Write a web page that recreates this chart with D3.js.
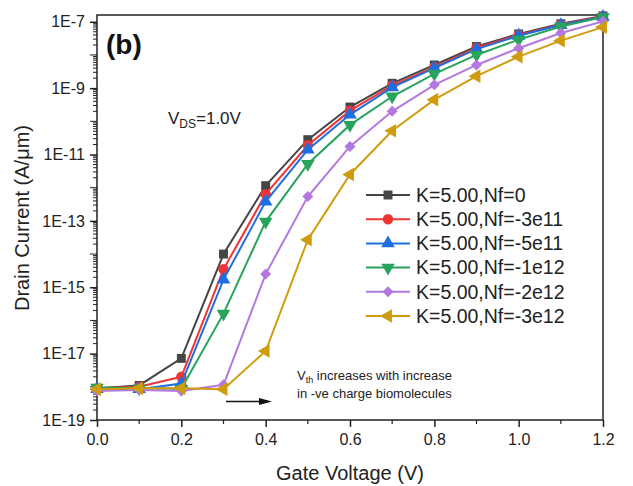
<!DOCTYPE html>
<html><head><meta charset="utf-8">
<script src="https://cdn.jsdelivr.net/npm/d3@7"></script>
<style>body{margin:0;background:#fff}svg{display:block;font-family:"Liberation Sans",Arial,sans-serif}</style>
</head><body>
<svg id="c" width="633" height="486"></svg>
<script>
const gateVoltage = [0.0,0.1,0.2,0.3,0.4,0.5,0.6,0.7,0.8,0.9,1.0,1.1,1.2];
const seriesNames = ["K=5.00,Nf=0","K=5.00,Nf=-3e11","K=5.00,Nf=-5e11","K=5.00,Nf=-1e12","K=5.00,Nf=-2e12","K=5.00,Nf=-3e12"];
const nf0    = [9e-19,1.1e-18,7.2e-18,1.0e-14,1.15e-12,2.8e-11,2.7e-10,1.4e-9,5.0e-9,1.8e-8,4.3e-8,8.7e-8,1.5e-7];
const nf3e11 = [9e-19,1.0e-18,2.0e-18,3.5e-15,6.4e-13,1.9e-11,2.1e-10,1.2e-9,4.3e-9,1.65e-8,4.0e-8,8.3e-8,1.45e-7];
const nf5e11 = [8.5e-19,8.5e-19,1.25e-18,1.7e-15,3.8e-13,1.4e-11,1.6e-10,1.05e-9,4.0e-9,1.5e-8,3.8e-8,8.0e-8,1.4e-7];
const nf1e12 = [9.5e-19,9e-19,8.7e-19,1.6e-16,9.5e-14,5.2e-12,7.8e-11,5.6e-10,2.7e-9,1.0e-8,2.9e-8,7.2e-8,1.38e-7];
const nf2e12 = [7.5e-19,8e-19,7.5e-19,1.15e-18,2.5e-15,5.4e-13,1.75e-11,2.0e-10,1.26e-9,5.0e-9,1.6e-8,4.6e-8,1.03e-7];
const nf3e12 = [8.5e-19,9e-19,9e-19,8.5e-19,1.2e-17,2.7e-14,2.5e-12,5.2e-11,4.5e-10,2.3e-9,8.9e-9,2.7e-8,6.9e-8];
const xTickLabels = ["0.0","0.2","0.4","0.6","0.8","1.0","1.2"];
const yTickLabels = ["1E-19","1E-17","1E-15","1E-13","1E-11","1E-9","1E-7"];

const colors = ["#454545","#ee3535","#1f6ee0","#27a35c","#b278e0","#d09c0e"];
const symbols = [
  {t:d3.symbolSquare, s:80, r:0},
  {t:d3.symbolCircle, s:85, r:0},
  {t:d3.symbolTriangle, s:80, r:0},
  {t:d3.symbolTriangle, s:80, r:180},
  {t:d3.symbolSquare, s:60, r:45},
  {t:d3.symbolTriangle, s:80, r:-90}
];
const allSeries = [nf0,nf3e11,nf5e11,nf1e12,nf2e12,nf3e12];

const svg = d3.select("#c");
const L=97,R=603,T=15,B=420;
const x = d3.scaleLinear().domain([0,1.2]).range([L,R]);
const y = d3.scaleLog().domain([1e-19,1.6e-7]).range([B,T]);

// frame
svg.append("rect").attr("x",L).attr("y",T).attr("width",R-L).attr("height",B-T)
  .attr("fill","none").attr("stroke","#222").attr("stroke-width",1.5);

// x axis
const xAxis = svg.append("g").attr("transform",`translate(0,${B})`);
xAxis.call(d3.axisBottom(x).tickValues(d3.range(0,1.21,0.2)).tickSize(7)
  .tickFormat((d,i)=>xTickLabels[i]));
xAxis.select(".domain").remove();
xAxis.selectAll(".tick line").attr("stroke","#222").attr("stroke-width",1.5);
xAxis.selectAll(".tick text").attr("font-size",16).attr("fill","#222").attr("dy","0.95em")
  .attr("font-family","Liberation Sans, Arial, sans-serif");
const xMinor = svg.append("g");
[0.1,0.3,0.5,0.7,0.9,1.1].forEach(v=>{
  xMinor.append("line").attr("x1",x(v)).attr("x2",x(v)).attr("y1",B).attr("y2",B+4)
    .attr("stroke","#222").attr("stroke-width",1.2);
});

// y axis
const majors = yTickLabels.map(s=>+s);
const yAxis = svg.append("g").attr("transform",`translate(${L},0)`);
yAxis.call(d3.axisLeft(y).tickValues(majors).tickSize(7).tickFormat((d,i)=>yTickLabels[i]));
yAxis.select(".domain").remove();
yAxis.selectAll(".tick line").attr("stroke","#222").attr("stroke-width",1.5);
yAxis.selectAll(".tick text").attr("font-size",16).attr("fill","#222").attr("dx","-2")
  .attr("font-family","Liberation Sans, Arial, sans-serif");
const yMinor = svg.append("g");
for(let e=-19;e<=-7;e++){
  for(let m=1;m<=9;m++){
    const v = m*Math.pow(10,e);
    if(v>1.6e-7) continue;
    if(m===1 && (e%2!==0)) continue;
    const len = (m===1)?7:4;
    yMinor.append("line").attr("x1",L-len).attr("x2",L).attr("y1",y(v)).attr("y2",y(v))
      .attr("stroke","#222").attr("stroke-width",1);
  }
}

// series
const line = d3.line().x((d,i)=>x(gateVoltage[i])).y(d=>y(d));
allSeries.forEach((s,k)=>{
  const g = svg.append("g");
  g.append("path").attr("d",line(s)).attr("fill","none").attr("stroke",colors[k]).attr("stroke-width",2);
  const sym = d3.symbol().type(symbols[k].t).size(symbols[k].s);
  g.selectAll("path.m").data(s).join("path").attr("class","m")
    .attr("d",sym)
    .attr("transform",(d,i)=>`translate(${x(gateVoltage[i])},${y(d)}) rotate(${symbols[k].r})`)
    .attr("fill",colors[k]);
});

// legend
const leg = svg.append("g");
seriesNames.forEach((n,k)=>{
  const yy = 195 + k*24.2;
  leg.append("line").attr("x1",366).attr("x2",410).attr("y1",yy).attr("y2",yy)
    .attr("stroke",colors[k]).attr("stroke-width",2);
  leg.append("path").attr("d",d3.symbol().type(symbols[k].t).size(symbols[k].s)())
    .attr("transform",`translate(388,${yy}) rotate(${symbols[k].r})`).attr("fill",colors[k]);
  leg.append("text").attr("x",416).attr("y",yy).attr("dy","0.35em").attr("font-size",19.5)
    .attr("fill","#222").text(n);
});

// axis titles
svg.append("text").attr("x",350).attr("y",480).attr("text-anchor","middle")
  .attr("font-size",20).attr("fill","#222").text("Gate Voltage (V)");
svg.append("text").attr("transform","translate(29,218) rotate(-90)").attr("text-anchor","middle")
  .attr("font-size",20).attr("fill","#222").text("Drain Current (A/μm)");

// annotations
svg.append("text").attr("x",106).attr("y",54).attr("font-size",28).attr("font-weight","bold")
  .attr("fill","#111").text("(b)");
const vds = svg.append("text").attr("x",168).attr("y",124).attr("font-size",17).attr("fill","#222");
vds.append("tspan").text("V");
vds.append("tspan").attr("font-size",12).attr("dy",4).text("DS");
vds.append("tspan").attr("dy",-4).text("=1.0V");
const ann = svg.append("text").attr("x",297).attr("y",380).attr("font-size",13).attr("fill","#222");
ann.append("tspan").text("V");
ann.append("tspan").attr("font-size",9).attr("dy",3).text("th");
ann.append("tspan").attr("dy",-3).text(" increases with increase");
svg.append("text").attr("x",297).attr("y",398).attr("font-size",13).attr("fill","#222")
  .text("in -ve charge biomolecules");
svg.append("line").attr("x1",226).attr("x2",262).attr("y1",401.5).attr("y2",401.5)
  .attr("stroke","#111").attr("stroke-width",1.3);
svg.append("path").attr("d","M259,398 L272,401.5 L259,405 Z").attr("fill","#111");
</script>
</body></html>
